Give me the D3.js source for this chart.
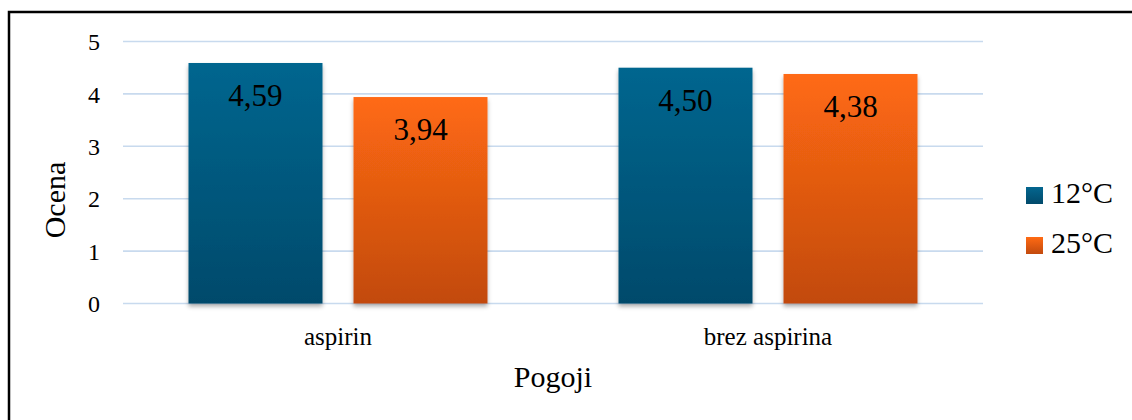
<!DOCTYPE html>
<html>
<head>
<meta charset="utf-8">
<script src="https://cdn.jsdelivr.net/npm/d3@7"></script>
<style>
  html, body { margin: 0; padding: 0; background: #fff; }
  svg text { font-family: "Liberation Serif", "Times New Roman", Times, "DejaVu Serif", serif !important; }
</style>
</head>
<body>
<svg id="chart" width="1132" height="420"></svg>
<script>
// Ocena po pogojih, dve temperaturi
const categories = ["aspirin", "brez aspirina"];
const seriesNames = ["12°C", "25°C"];
const values12 = [4.59, 4.50];
const values25 = [3.94, 4.38];
const yTicks = [0, 1, 2, 3, 4, 5];

const seriesValues = [values12, values25];
const rows = categories.map((c, i) => ({
  category: c,
  bars: seriesNames.map((s, j) => ({ series: s, idx: j, value: seriesValues[j][i] }))
}));

const svg = d3.select("#chart");
const W = 1132, H = 420;

// frame
svg.append("rect")
  .attr("x", 9).attr("y", 12)
  .attr("width", W + 10).attr("height", H + 10)
  .attr("fill", "#fff").attr("stroke", "#000").attr("stroke-width", 2.5);

const defs = svg.append("defs");
const gradStops = [
  ["#04668F", "#014A6B"],
  ["#FF6A13", "#C24A0E"]
];
gradStops.forEach((g, i) => {
  const lg = defs.append("linearGradient")
    .attr("id", "grad" + i)
    .attr("x1", 0).attr("y1", 0).attr("x2", 0).attr("y2", 1);
  lg.append("stop").attr("offset", "0%").attr("stop-color", g[0]);
  lg.append("stop").attr("offset", "100%").attr("stop-color", g[1]);
});
const shadow = defs.append("filter").attr("id", "shadow")
  .attr("x", "-10%").attr("y", "-10%").attr("width", "120%").attr("height", "120%");
shadow.append("feDropShadow")
  .attr("dx", 0).attr("dy", 3).attr("stdDeviation", 2.2)
  .attr("flood-color", "#000").attr("flood-opacity", 0.32);

const plotLeft = 123, plotRight = 983;
const y = d3.scaleLinear().domain([0, 5]).range([303.5, 41.5]);
const x0 = d3.scaleBand().domain(categories).range([plotLeft, plotRight])
  .paddingInner(0).paddingOuter(0);
const x1 = d3.scaleBand().domain(seriesNames).range([0, x0.bandwidth()])
  .paddingInner(0.188).paddingOuter(0.397);

// gridlines
svg.append("g").selectAll("line")
  .data(yTicks)
  .join("line")
  .attr("x1", plotLeft).attr("x2", plotRight)
  .attr("y1", d => y(d)).attr("y2", d => y(d))
  .attr("stroke", "#C8DAEE").attr("stroke-width", 1.6);

// y axis labels
const yAxis = d3.axisLeft(y).tickValues(yTicks).tickSize(0).tickPadding(0)
  .tickFormat(d3.format("d"));
const gy = svg.append("g").attr("transform", "translate(100,0)").call(yAxis);
gy.select(".domain").remove();
gy.selectAll("text")
  .attr("font-size", 24).attr("fill", "#000")
  .attr("dy", "0.34em");

// bars
const groups = svg.append("g").selectAll("g")
  .data(rows)
  .join("g")
  .attr("transform", d => `translate(${x0(d.category)},0)`);

groups.selectAll("rect")
  .data(d => d.bars)
  .join("rect")
  .attr("x", d => x1(d.series))
  .attr("width", x1.bandwidth())
  .attr("y", d => y(d.value))
  .attr("height", d => y(0) - y(d.value))
  .attr("fill", d => `url(#grad${d.idx})`)
  .attr("filter", "url(#shadow)");

// value labels
const fmt = v => d3.format(".2f")(v).replace(".", ",");
groups.selectAll("text.val")
  .data(d => d.bars)
  .join("text")
  .attr("class", "val")
  .attr("x", d => x1(d.series) + x1.bandwidth() / 2)
  .attr("y", d => y(d.value) + 43)
  .attr("text-anchor", "middle")
  .attr("font-size", 31)
  .attr("fill", "#000")
  .text(d => fmt(d.value));

// x axis category labels
const xAxis = d3.axisBottom(x0).tickSize(0).tickPadding(0);
const gx = svg.append("g").attr("transform", "translate(0,345)").call(xAxis);
gx.select(".domain").remove();
gx.selectAll("text")
  .attr("font-size", 25).attr("fill", "#000")
  .attr("dy", 0).attr("y", 0);

// axis titles
svg.append("text")
  .attr("x", 553).attr("y", 387)
  .attr("text-anchor", "middle")
  .attr("font-size", 30)
  .text("Pogoji");

svg.append("text")
  .attr("transform", "translate(65,200) rotate(-90)")
  .attr("text-anchor", "middle")
  .attr("font-size", 30)
  .text("Ocena");

// legend
const legend = svg.append("g").selectAll("g")
  .data(seriesNames)
  .join("g")
  .attr("transform", (d, i) => `translate(1026,${187 + i * 50})`);
legend.append("rect")
  .attr("width", 17).attr("height", 17)
  .attr("fill", (d, i) => `url(#grad${i})`);
legend.append("text")
  .attr("x", 25).attr("y", 16)
  .attr("font-size", 30)
  .text(d => d);
</script>
</body>
</html>
